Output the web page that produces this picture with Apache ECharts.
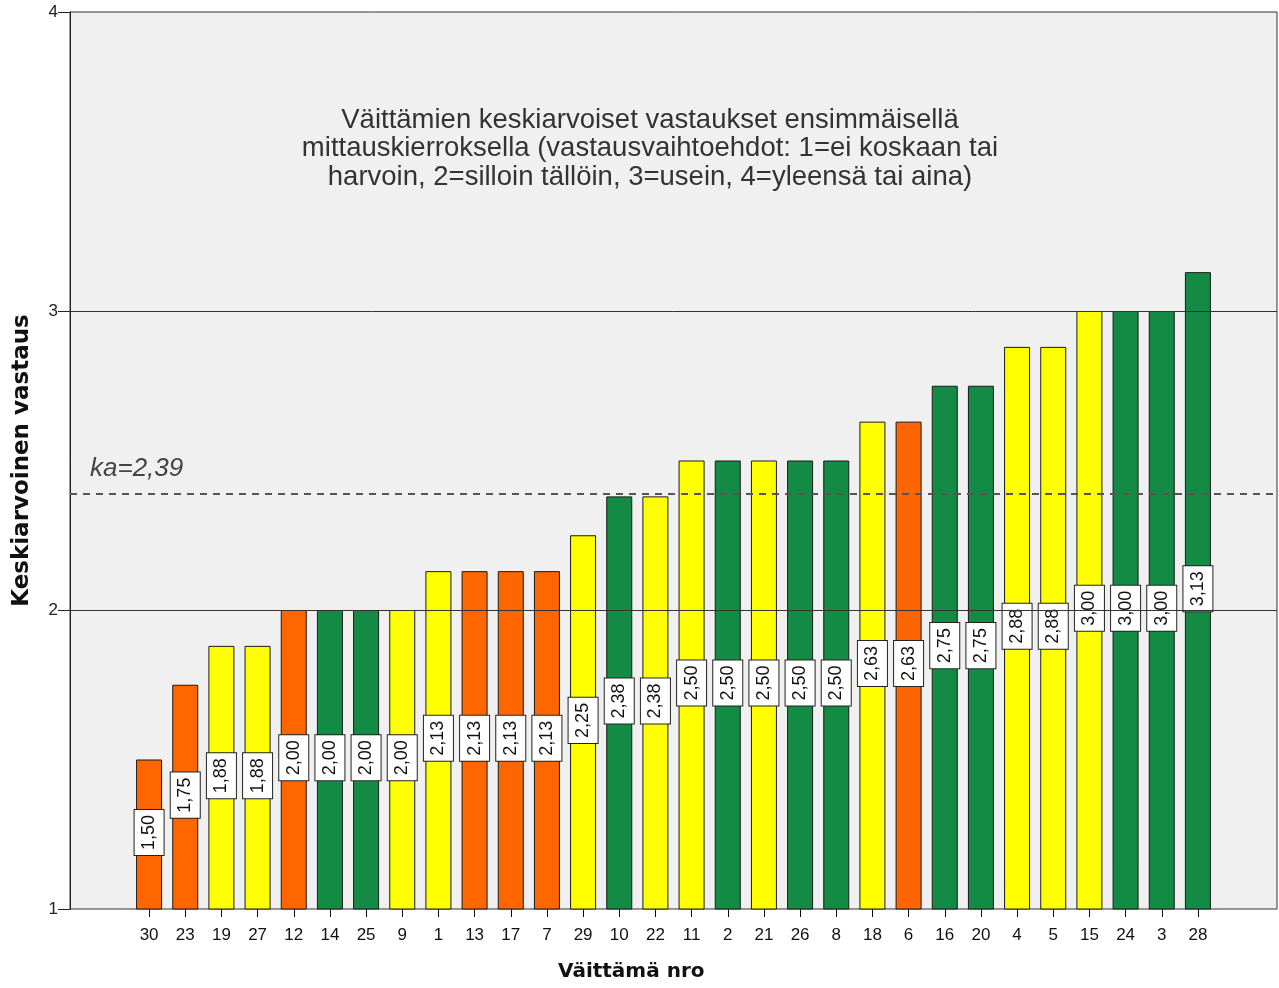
<!DOCTYPE html>
<html>
<head>
<meta charset="utf-8">
<script src="https://cdn.jsdelivr.net/npm/echarts@6/dist/echarts.min.js"></script>
<style>
  html, body { margin: 0; padding: 0; background: #fff; }
  #chart { width: 1279px; height: 988px; }
</style>
</head>
<body>
<div id="chart"></div>
<script>
// Statement numbers, ordered by their mean answer
const categories = ['30','23','19','27','12','14','25','9','1','13','17','7','29','10','22',
                    '11','2','21','26','8','18','6','16','20','4','5','15','24','3','28'];

// Mean answer per statement (scale 1–4)
const meanValues = [1.50,1.75,1.88,1.88,2.00,2.00,2.00,2.00,2.13,2.13,2.13,2.13,2.25,2.38,2.38,
                    2.50,2.50,2.50,2.50,2.50,2.63,2.63,2.75,2.75,2.88,2.88,3.00,3.00,3.00,3.13];

// Statement group of each bar
const statementGroup = ['A','A','B','B','A','C','C','B','B','A','A','A','B','C','B',
                        'B','C','B','C','C','B','A','C','C','B','B','B','C','C','C'];

// Overall mean of all statements
const overallMean = 2.39;

// Y axis range and tick step
const yMin = 1, yMax = 4, yStep = 1;
// Reference lines drawn over the bars
const referenceLevels = [2, 3];

const groupColors = { A: '#ff6600', B: '#ffff00', C: '#138b45' };
const fmt = v => v.toFixed(2).replace('.', ',');

const chart = echarts.init(document.getElementById('chart'), null, { renderer: 'canvas' });

const option = {
  animation: false,
  backgroundColor: '#ffffff',
  textStyle: { fontFamily: 'Liberation Sans, Arial, sans-serif' },
  grid: [
    { left: 70, right: 2, top: 12, bottom: 79, show: true, backgroundColor: '#f0f0f0',
      borderColor: '#333', borderWidth: 1 },
    { left: 131, right: 63, top: 12, bottom: 79, show: false }
  ],
  xAxis: [
    { gridIndex: 0, type: 'value', min: 0, max: 1, show: false },
    {
      gridIndex: 1, type: 'category', data: categories,
      axisLine: { show: false },
      axisTick: { show: true, alignWithLabel: true, length: 8, lineStyle: { color: '#111', width: 1 } },
      axisLabel: { fontSize: 17, color: '#111', margin: 18, interval: 0 },
      splitLine: { show: false }
    }
  ],
  yAxis: [
    {
      gridIndex: 0, type: 'value', min: yMin, max: yMax, interval: yStep,
      name: 'Keskiarvoinen vastaus', nameLocation: 'middle', nameGap: 36,
      nameTextStyle: { fontFamily: 'DejaVu Sans', fontWeight: 'bold', fontSize: 23, color: '#111' },
      axisLine: { show: true, lineStyle: { color: '#222', width: 1 } },
      axisTick: { show: true, length: 12, lineStyle: { color: '#222', width: 1 } },
      axisLabel: { fontSize: 17, color: '#222', margin: 12 },
      splitLine: { show: false }
    },
    { gridIndex: 1, type: 'value', min: yMin, max: yMax, interval: yStep, show: false }
  ],
  graphic: [
    {
      type: 'text', x: 650, y: 106, z: 20,
      style: {
        text: 'Väittämien keskiarvoiset vastaukset ensimmäisellä\nmittauskierroksella (vastausvaihtoehdot: 1=ei koskaan tai\nharvoin, 2=silloin tällöin, 3=usein, 4=yleensä tai aina)',
        fontFamily: 'Liberation Sans, Arial, sans-serif', fontSize: 27.5, lineHeight: 28.5,
        fill: '#333', align: 'center', verticalAlign: 'top'
      }
    },
    {
      type: 'text', left: 558, top: 962, z: 20,
      style: { text: 'Väittämä nro', fontFamily: 'DejaVu Sans', fontWeight: 'bold', fontSize: 20, fill: '#111' }
    }
  ],
  series: [
    {
      type: 'bar', xAxisIndex: 1, yAxisIndex: 1,
      barWidth: 26,
      data: meanValues.map((v, i) => ({
        value: v,
        itemStyle: { color: groupColors[statementGroup[i]] }
      })),
      itemStyle: { borderColor: '#1a1a1a', borderWidth: 1 },
      label: {
        show: true, position: 'inside', rotate: 90, offset: [2, 0],
        formatter: p => fmt(p.value),
        fontSize: 18, color: '#111', fontFamily: 'Liberation Sans, Arial, sans-serif',
        backgroundColor: '#ffffff', borderColor: '#222', borderWidth: 1,
        padding: [5, 5, 4, 5], lineHeight: 20
      }
    },
    {
      type: 'line', xAxisIndex: 0, yAxisIndex: 0, data: [], z: 10,
      markLine: {
        silent: true, symbol: 'none', z: 10,
        data: [
          ...referenceLevels.map(v => ({
            yAxis: v, label: { show: false },
            lineStyle: { color: '#333', width: 1, type: 'solid' }
          })),
          {
            yAxis: overallMean,
            lineStyle: { color: '#555', width: 2, type: [7, 6] },
            label: {
              show: true, position: 'insideStartTop', distance: [20, 12],
              formatter: p => 'ka=' + fmt(p.value),
              fontSize: 26, fontStyle: 'italic', color: '#444',
              fontFamily: 'Liberation Sans, Arial, sans-serif'
            }
          }
        ]
      }
    }
  ]
};

chart.setOption(option);
</script>
</body>
</html>
